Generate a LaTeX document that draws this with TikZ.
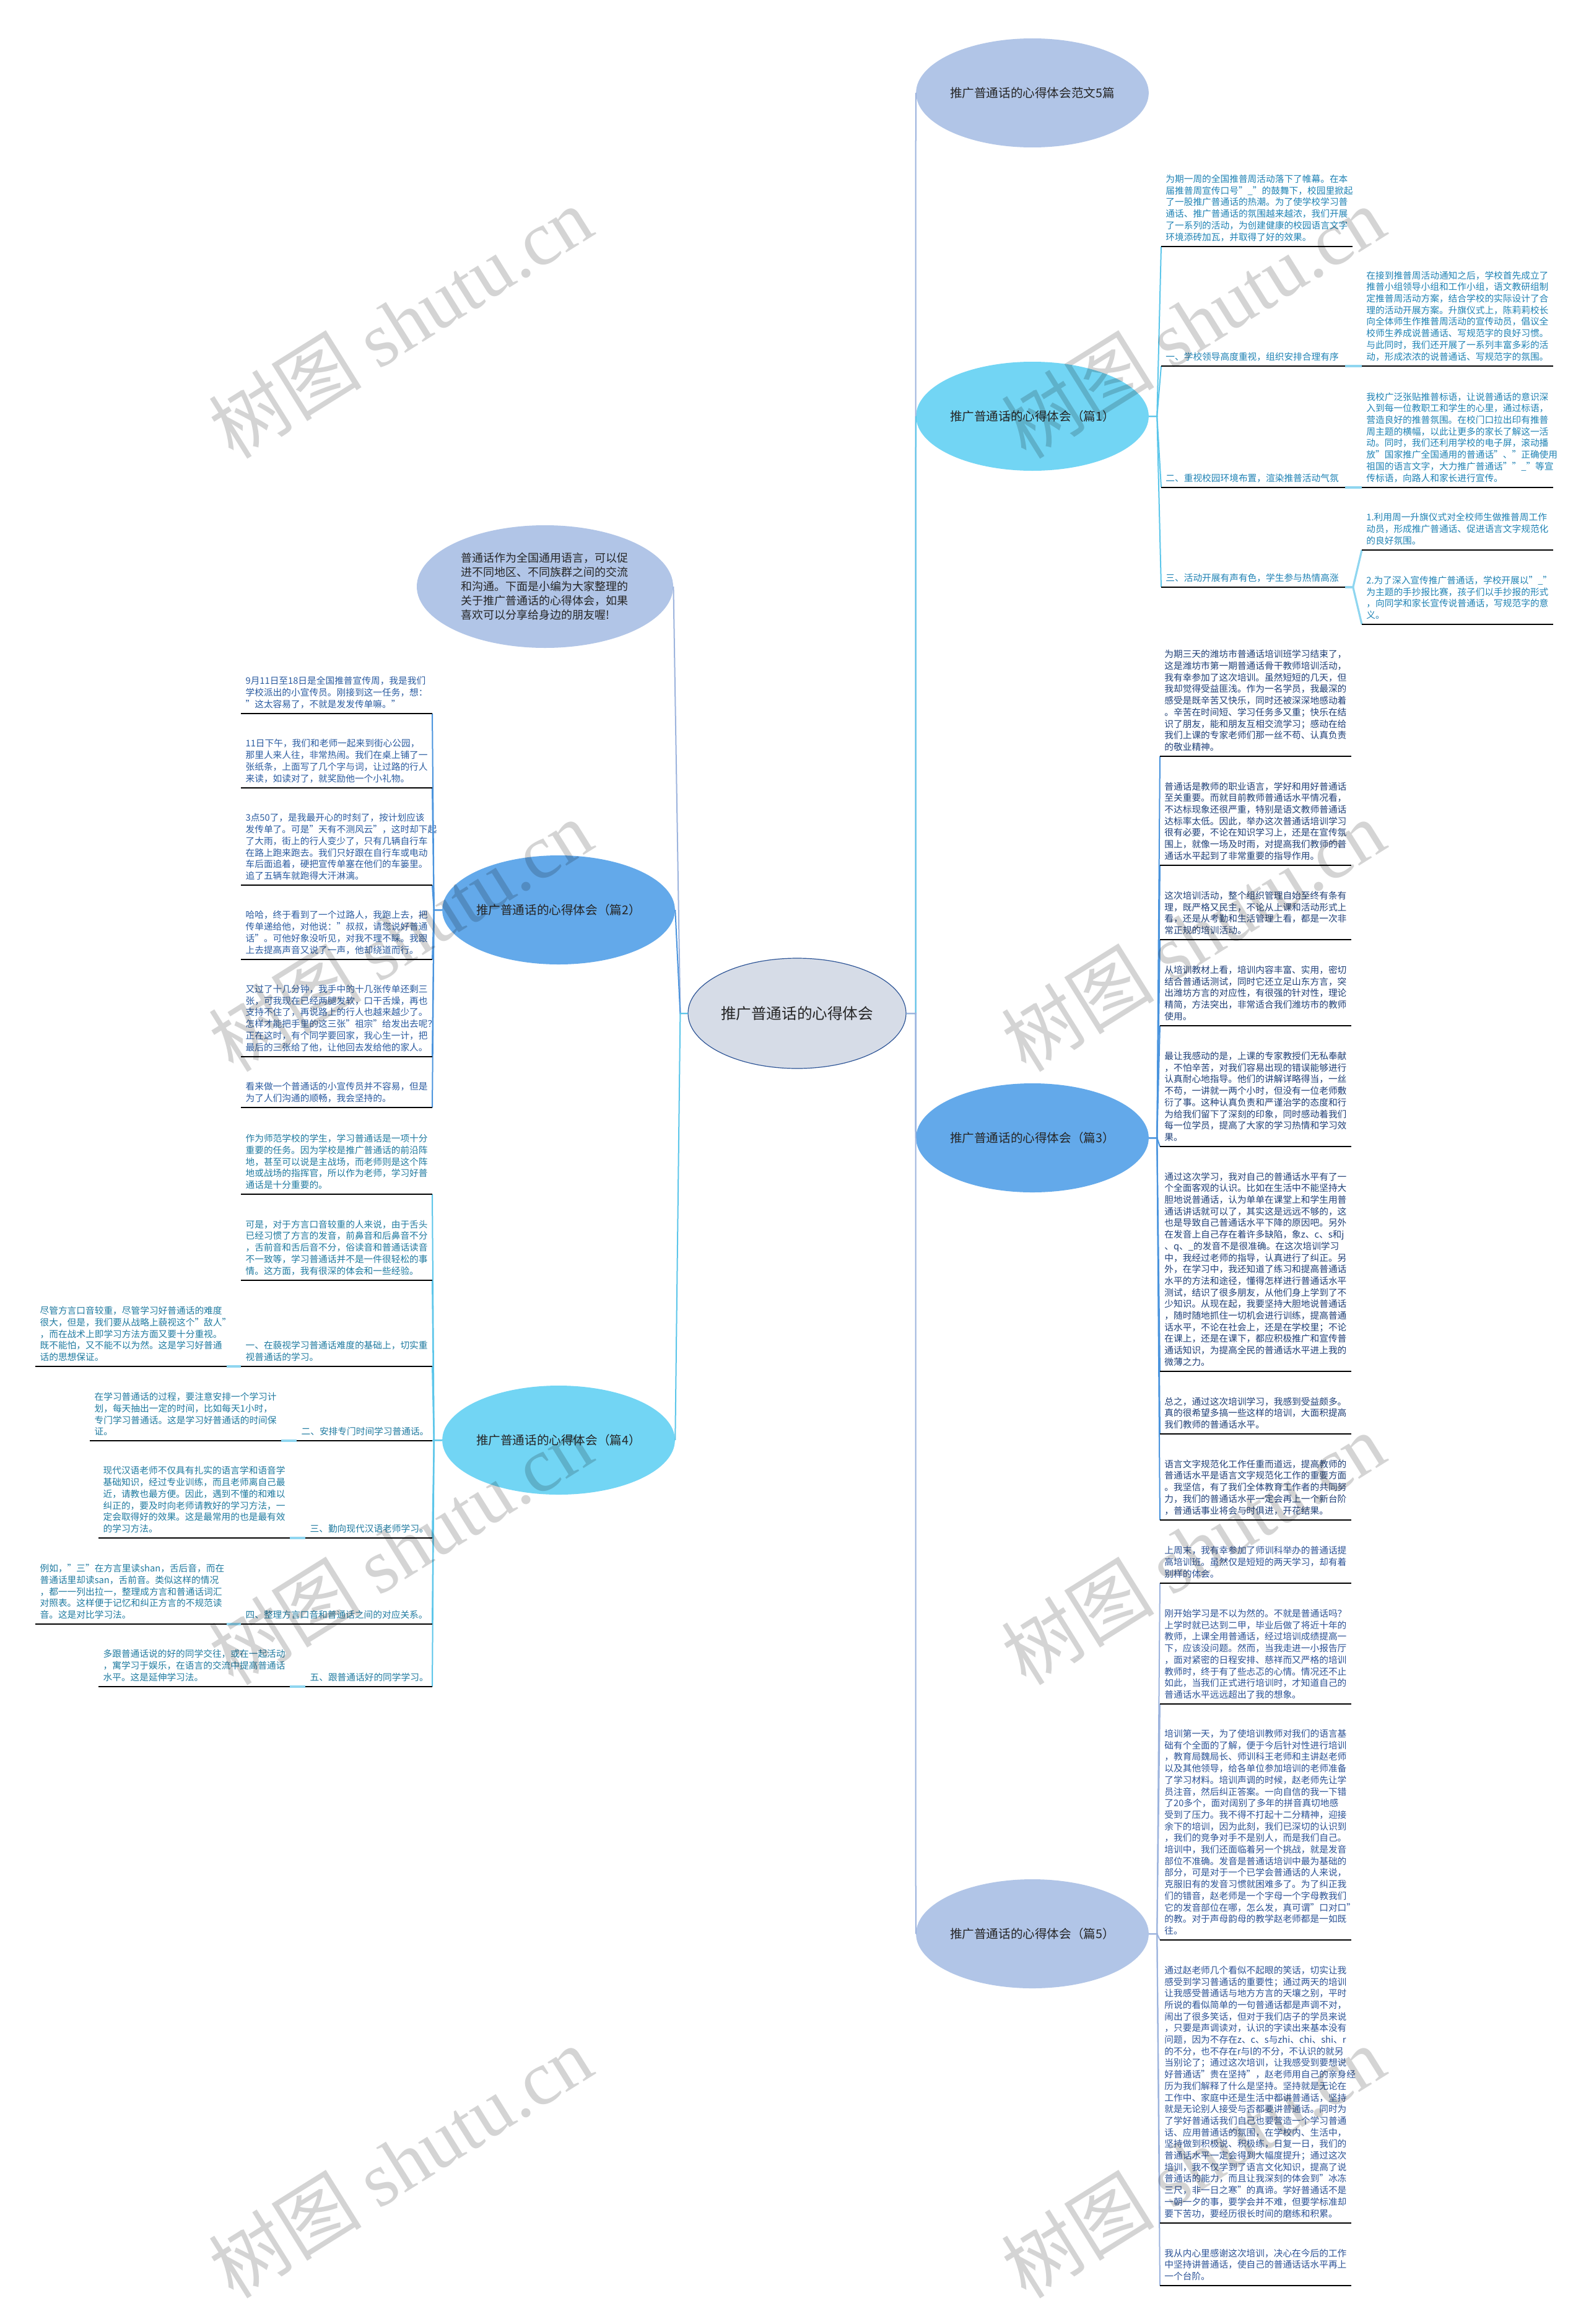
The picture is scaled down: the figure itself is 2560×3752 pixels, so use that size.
\documentclass[tikz,border=0pt]{standalone}
\usepackage{fontspec}
\setmainfont{Noto Sans CJK SC}
\newfontfamily\wmserif{Liberation Serif}
\usetikzlibrary{shapes.geometric}
\definecolor{fperi}{HTML}{B1C5E7}
\definecolor{lperi}{HTML}{9DB4DE}
\definecolor{fcyan}{HTML}{72D5F4}
\definecolor{lcyan}{HTML}{5CC6EA}
\definecolor{fblue}{HTML}{63A9EA}
\definecolor{lblue}{HTML}{4A94DE}
\definecolor{fmain}{HTML}{D6DCE7}
\definecolor{dmain}{HTML}{2E5597}
\definecolor{subc}{HTML}{8FD6F0}
\definecolor{tone}{HTML}{1E82B4}
\definecolor{ttwo}{HTML}{2A5BA0}
\definecolor{tthree}{HTML}{1F4078}
\definecolor{tfour}{HTML}{1F7AA0}
\definecolor{tfive}{HTML}{2B5296}
\newcommand\leaffont{\fontsize{7.35pt}{9.35pt}\selectfont}
\tikzset{
  bubble/.style={ellipse, minimum width=180pt, minimum height=88pt, inner sep=0pt, text=black!85, font=\fontsize{9.8pt}{12pt}\selectfont},
  leaf/.style={inner xsep=3.5pt, inner ysep=4pt, text width=147pt, align=left, font=\leaffont},
  lab/.style={leaf, text width=141pt},
  conn/.style={line width=1pt},
  subln/.style={line width=1.6pt, color=subc},
  uline/.style={line width=1.1pt, black},
  wmk/.style={rotate=32, text=black, opacity=0.17, inner sep=0pt, font=\fontsize{62pt}{62pt}\selectfont}
}
\begin{document}
\begin{tikzpicture}[x=0.5pt,y=-0.5pt]
\fill[white] (0,0) rectangle (2560,3752);
\useasboundingbox (0,0) rectangle (2560,3752);

% central and first-level nodes
\node[bubble, fill=fmain, draw=dmain, line width=0.6pt, minimum width=176pt, minimum height=89pt, font=\fontsize{12.3pt}{14pt}\selectfont] (main) at (1287,1636) {推广普通话的心得体会};
\node[bubble, fill=fperi] (top) at (1667,150) {推广普通话的心得体会范文5篇};
\node[bubble, fill=fcyan] (p1) at (1667,672) {推广普通话的心得体会（篇1）};
\node[bubble, fill=fblue] (p3) at (1667,1837) {推广普通话的心得体会（篇3）};
\node[bubble, fill=fperi] (p5) at (1667,3122) {推广普通话的心得体会（篇5）};
\node[bubble, fill=fperi, minimum width=207pt, minimum height=99pt, align=left, text width=136pt, font=\fontsize{9pt}{11.5pt}\selectfont] (intro) at (880,947) {普通话作为全国通用语言，可以促\\进不同地区、不同族群之间的交流\\和沟通。下面是小编为大家整理的\\关于推广普通话的心得体会，如果\\喜欢可以分享给身边的朋友喔!};
\node[bubble, fill=fblue] (p2) at (902,1469) {推广普通话的心得体会（篇2）};
\node[bubble, fill=fcyan] (p4) at (902,2325) {推广普通话的心得体会（篇4）};

% ---------- 篇1 ----------
\node[leaf, text=tone, anchor=south west] (p1a) at (1875,398) {为期一周的全国推普周活动落下了帷幕。在本\\届推普周宣传口号"\_"的鼓舞下，校园里掀起\\了一股推广普通话的热潮。为了使学校学习普\\通话、推广普通话的氛围越来越浓，我们开展\\了一系列的活动，为创建健康的校园语言文字\\环境添砖加瓦，并取得了好的效果。};
\node[lab, text=tone, anchor=south west] (p1l1) at (1875,591) {一、学校领导高度重视，组织安排合理有序};
\node[leaf, text=tone, anchor=south west] (p1b) at (2199,591) {在接到推普周活动通知之后，学校首先成立了\\推普小组领导小组和工作小组，语文教研组制\\定推普周活动方案，结合学校的实际设计了合\\理的活动开展方案。升旗仪式上，陈莉莉校长\\向全体师生作推普周活动的宣传动员，倡议全\\校师生养成说普通话、写规范字的良好习惯。\\与此同时，我们还开展了一系列丰富多彩的活\\动，形成浓浓的说普通话、写规范字的氛围。};
\node[lab, text=tone, anchor=south west] (p1l2) at (1875,787) {二、重视校园环境布置，渲染推普活动气氛};
\node[leaf, text=tone, anchor=south west] (p1c) at (2199,787) {我校广泛张贴推普标语，让说普通话的意识深\\入到每一位教职工和学生的心里，通过标语，\\营造良好的推普氛围。在校门口拉出印有推普\\周主题的横幅，以此让更多的家长了解这一活\\动。同时，我们还利用学校的电子屏，滚动播\\放"国家推广全国通用的普通话"、"正确使用\\祖国的语言文字，大力推广普通话""\_"等宣\\传标语，向路人和家长进行宣传。};
\node[lab, text=tone, anchor=south west] (p1l3) at (1875,948) {三、活动开展有声有色，学生参与热情高涨};
\node[leaf, text=tone, anchor=south west] (p1d1) at (2199,888) {1.利用周一升旗仪式对全校师生做推普周工作\\动员，形成推广普通话、促进语言文字规范化\\的良好氛围。};
\node[leaf, text=tone, anchor=south west] (p1d2) at (2199,1008) {2.为了深入宣传推广普通话，学校开展以"\_"\\为主题的手抄报比赛，孩子们以手抄报的形式\\，向同学和家长宣传说普通话，写规范字的意\\义。};

% ---------- 篇3 ----------
\node[leaf, text=tthree, anchor=south west] (p3a) at (1873,1221) {为期三天的潍坊市普通话培训班学习结束了，\\这是潍坊市第一期普通话骨干教师培训活动，\\我有幸参加了这次培训。虽然短短的几天，但\\我却觉得受益匪浅。作为一名学员，我最深的\\感受是既辛苦又快乐，同时还被深深地感动着\\。辛苦在时间短、学习任务多又重；快乐在结\\识了朋友，能和朋友互相交流学习；感动在给\\我们上课的专家老师们那一丝不苟、认真负责\\的敬业精神。};
\node[leaf, text=tthree, anchor=south west] (p3b) at (1873,1397) {普通话是教师的职业语言，学好和用好普通话\\至关重要。而就目前教师普通话水平情况看，\\不达标现象还很严重，特别是语文教师普通话\\达标率太低。因此，举办这次普通话培训学习\\很有必要，不论在知识学习上，还是在宣传氛\\围上，就像一场及时雨，对提高我们教师的普\\通话水平起到了非常重要的指导作用。};
\node[leaf, text=tthree, anchor=south west] (p3c) at (1873,1517) {这次培训活动，整个组织管理自始至终有条有\\理，既严格又民主，不论从上课和活动形式上\\看，还是从考勤和生活管理上看，都是一次非\\常正规的培训活动。};
\node[leaf, text=tthree, anchor=south west] (p3d) at (1873,1656) {从培训教材上看，培训内容丰富、实用，密切\\结合普通话测试，同时它还立足山东方言，突\\出潍坊方言的对应性，有很强的针对性，理论\\精简，方法突出，非常适合我们潍坊市的教师\\使用。};
\node[leaf, text=tthree, anchor=south west] (p3e) at (1873,1851) {最让我感动的是，上课的专家教授们无私奉献\\，不怕辛苦，对我们容易出现的错误能够进行\\认真耐心地指导。他们的讲解详略得当，一丝\\不苟，一讲就一两个小时，但没有一位老师敷\\衍了事。这种认真负责和严谨治学的态度和行\\为给我们留下了深刻的印象，同时感动着我们\\每一位学员，提高了大家的学习热情和学习效\\果。};
\node[leaf, text=tthree, anchor=south west] (p3f) at (1873,2214) {通过这次学习，我对自己的普通话水平有了一\\个全面客观的认识。比如在生活中不能坚持大\\胆地说普通话，认为单单在课堂上和学生用普\\通话讲话就可以了，其实这是远远不够的，这\\也是导致自己普通话水平下降的原因吧。另外\\在发音上自己存在着许多缺陷，象z、c、s和j\\、q、\_的发音不是很准确。在这次培训学习\\中，我经过老师的指导，认真进行了纠正。另\\外，在学习中，我还知道了练习和提高普通话\\水平的方法和途径，懂得怎样进行普通话水平\\测试，结识了很多朋友，从他们身上学到了不\\少知识。从现在起，我要坚持大胆地说普通话\\，随时随地抓住一切机会进行训练，提高普通\\话水平，不论在社会上，还是在学校里；不论\\在课上，还是在课下，都应积极推广和宣传普\\通话知识，为提高全民的普通话水平进上我的\\微薄之力。};
\node[leaf, text=tthree, anchor=south west] (p3g) at (1873,2315) {总之，通过这次培训学习，我感到受益颇多。\\真的很希望多搞一些这样的培训，大面积提高\\我们教师的普通话水平。};
\node[leaf, text=tthree, anchor=south west] (p3h) at (1873,2454) {语言文字规范化工作任重而道远，提高教师的\\普通话水平是语言文字规范化工作的重要方面\\。我坚信，有了我们全体教育工作者的共同努\\力，我们的普通话水平一定会再上一个新台阶\\，普通话事业将会与时俱进，开花结果。};

% ---------- 篇5 ----------
\node[leaf, text=tfive, anchor=south west] (p5a) at (1873,2556) {上周末，我有幸参加了师训科举办的普通话提\\高培训班。虽然仅是短短的两天学习，却有着\\别样的体会。};
\node[leaf, text=tfive, anchor=south west] (p5b) at (1873,2751) {刚开始学习是不以为然的。不就是普通话吗？\\上学时就已达到二甲，毕业后做了将近十年的\\教师，上课全用普通话，经过培训成绩提高一\\下，应该没问题。然而，当我走进一小报告厅\\，面对紧密的日程安排、慈祥而又严格的培训\\教师时，终于有了些忐忑的心情。情况还不止\\如此，当我们正式进行培训时，才知道自己的\\普通话水平远远超出了我的想象。};
\node[leaf, text=tfive, anchor=south west] (p5c) at (1873,3132) {培训第一天，为了使培训教师对我们的语言基\\础有个全面的了解，便于今后针对性进行培训\\，教育局魏局长、师训科王老师和主讲赵老师\\以及其他领导，给各单位参加培训的老师准备\\了学习材料。培训声调的时候，赵老师先让学\\员注音，然后纠正答案。一向自信的我一下错\\了20多个，面对阔别了多年的拼音真切地感\\受到了压力。我不得不打起十二分精神，迎接\\余下的培训，因为此刻，我们已深切的认识到\\，我们的竞争对手不是别人，而是我们自己。\\培训中，我们还面临着另一个挑战，就是发音\\部位不准确。发音是普通话培训中最为基础的\\部分，可是对于一个已学会普通话的人来说，\\克服旧有的发音习惯就困难多了。为了纠正我\\们的错音，赵老师是一个字母一个字母教我们\\它的发音部位在哪，怎么发，真可谓"口对口"\\的教。对于声母韵母的教学赵老师都是一如既\\往。};
\node[leaf, text=tfive, anchor=south west] (p5d) at (1873,3589) {通过赵老师几个看似不起眼的笑话，切实让我\\感受到学习普通话的重要性；通过两天的培训\\让我感受普通话与地方方言的天壤之别，平时\\所说的看似简单的一句普通话都是声调不对，\\闹出了很多笑话，但对于我们店子的学员来说\\，只要是声调读对，认识的字读出来基本没有\\问题，因为不存在z、c、s与zhi、chi、shi、r\\的不分，也不存在r与l的不分，不认识的就另\\当别论了；通过这次培训，让我感受到要想说\\好普通话"贵在坚持"，赵老师用自己的亲身经\\历为我们解释了什么是坚持。坚持就是无论在\\工作中、家庭中还是生活中都讲普通话，坚持\\就是无论别人接受与否都要讲普通话。同时为\\了学好普通话我们自己也要营造一个学习普通\\话、应用普通话的氛围，在学校内、生活中，\\坚持做到积极说、积极练，日复一日，我们的\\普通话水平一定会得到大幅度提升；通过这次\\培训，我不仅学到了语言文化知识，提高了说\\普通话的能力，而且让我深刻的体会到"冰冻\\三尺，非一日之寒"的真谛。学好普通话不是\\一朝一夕的事，要学会并不难，但要学标准却\\要下苦功，要经历很长时间的磨练和积累。};
\node[leaf, text=tfive, anchor=south west] (p5e) at (1873,3690) {我从内心里感谢这次培训，决心在今后的工作\\中坚持讲普通话，使自己的普通话话水平再上\\一个台阶。};

% ---------- 篇2 ----------
\node[leaf, text=ttwo, anchor=south east] (p2a) at (698,1152) {9月11日至18日是全国推普宣传周，我是我们\\学校派出的小宣传员。刚接到这一任务，想：\\"这太容易了，不就是发发传单嘛。"};
\node[leaf, text=ttwo, anchor=south east] (p2b) at (698,1272) {11日下午，我们和老师一起来到街心公园，\\那里人来人往，非常热闹。我们在桌上铺了一\\张纸条，上面写了几个字与词，让过路的行人\\来读，如读对了，就奖励他一个小礼物。};
\node[leaf, text=ttwo, anchor=south east] (p2c) at (698,1429) {3点50了，是我最开心的时刻了，按计划应该\\发传单了。可是"天有不测风云"，这时却下起\\了大雨，街上的行人变少了，只有几辆自行车\\在路上跑来跑去。我们只好跟在自行车或电动\\车后面追着，硬把宣传单塞在他们的车篓里。\\追了五辆车就跑得大汗淋漓。};
\node[leaf, text=ttwo, anchor=south east] (p2d) at (698,1549) {哈哈，终于看到了一个过路人，我跑上去，把\\传单递给他，对他说："叔叔，请您说好普通\\话"。可他好象没听见，对我不理不睬。我跟\\上去提高声音又说了一声，他却绕道而行。};
\node[leaf, text=ttwo, anchor=south east] (p2e) at (698,1706) {又过了十几分钟，我手中的十几张传单还剩三\\张，可我现在已经两腿发软，口干舌燥，再也\\支持不住了，再说路上的行人也越来越少了。\\怎样才能把手里的这三张"祖宗"给发出去呢？\\正在这时，有个同学要回家，我心生一计，把\\最后的三张给了他，让他回去发给他的家人。};
\node[leaf, text=ttwo, anchor=south east] (p2f) at (698,1788) {看来做一个普通话的小宣传员并不容易，但是\\为了人们沟通的顺畅，我会坚持的。};

% ---------- 篇4 ----------
\node[leaf, text=tfour, anchor=south east] (p4a) at (698,1928) {作为师范学校的学生，学习普通话是一项十分\\重要的任务。因为学校是推广普通话的前沿阵\\地，甚至可以说是主战场，而老师则是这个阵\\地或战场的指挥官，所以作为老师，学习好普\\通话是十分重要的。};
\node[leaf, text=tfour, anchor=south east] (p4b) at (698,2067) {可是，对于方言口音较重的人来说，由于舌头\\已经习惯了方言的发音，前鼻音和后鼻音不分\\，舌前音和舌后音不分，俗读音和普通话读音\\不一致等，学习普通话并不是一件很轻松的事\\情。这方面，我有很深的体会和一些经验。};
\node[leaf, text=tfour, anchor=south east] (p4l1) at (698,2206) {一、在藐视学习普通话难度的基础上，切实重\\视普通话的学习。};
\node[leaf, text=tfour, anchor=south east] (p4c1) at (366,2206) {尽管方言口音较重，尽管学习好普通话的难度\\很大，但是，我们要从战略上藐视这个"敌人"\\，而在战术上即学习方法方面又要十分重视。\\既不能怕，又不能不以为然。这是学习好普通\\话的思想保证。};
\node[leaf, text=tfour, anchor=south east, text width=102pt, align=right] (p4l2) at (698,2326) {二、安排专门时间学习普通话。};
\node[leaf, text=tfour, anchor=south east] (p4c2) at (454,2326) {在学习普通话的过程，要注意安排一个学习计\\划，每天抽出一定的时间，比如每天1小时，\\专门学习普通话。这是学习好普通话的时间保\\证。};
\node[leaf, text=tfour, anchor=south east, text width=95pt, align=right] (p4l3) at (698,2483) {三、勤向现代汉语老师学习。};
\node[leaf, text=tfour, anchor=south east] (p4c3) at (468,2483) {现代汉语老师不仅具有扎实的语言学和语音学\\基础知识，经过专业训练，而且老师离自己最\\近，请教也最方便。因此，遇到不懂的和难以\\纠正的，要及时向老师请教好的学习方法，一\\定会取得好的效果。这是最常用的也是最有效\\的学习方法。};
\node[leaf, text=tfour, anchor=south east, align=right] (p4l4) at (698,2622) {四、整理方言口音和普通话之间的对应关系。};
\node[leaf, text=tfour, anchor=south east] (p4c4) at (366,2622) {例如，"三"在方言里读shan，舌后音，而在\\普通话里却读san，舌前音。类似这样的情况\\，都一一列出拉一，整理成方言和普通话词汇\\对照表。这样便于记忆和纠正方言的不规范读\\音。这是对比学习法。};
\node[leaf, text=tfour, anchor=south east, text width=95pt, align=right] (p4l5) at (698,2723) {五、跟普通话好的同学学习。};
\node[leaf, text=tfour, anchor=south east] (p4c5) at (468,2723) {多跟普通话说的好的同学交往，或在一起活动\\，寓学习于娱乐，在语言的交流中提高普通话\\水平。这是延伸学习法。};

% ---------- connectors: main ----------
\draw[conn, lperi] (main.east) -- ++(15,0) -- (top.west);
\draw[conn, lcyan] (main.east) -- ++(15,0) -- (p1.west);
\draw[conn, lblue] (main.east) -- ++(15,0) -- (p3.west);
\draw[conn, lperi] (main.east) -- ++(15,0) -- (p5.west);
\draw[conn, lperi] (main.west) -- ++(-12,0) -- (intro.east);
\draw[conn, lblue] (main.west) -- ++(-12,0) -- (p2.east);
\draw[conn, lcyan] (main.west) -- ++(-12,0) -- (p4.east);

% ---------- connectors: parents to leaves ----------
\foreach \n in {p1a,p1l1,p1l2,p1l3}
  \draw[conn, lcyan] (p1.east) -- ++(13,0) -- (\n.south west);
\foreach \n in {p3a,p3b,p3c,p3d,p3e,p3f,p3g,p3h}
  \draw[conn, lblue] (p3.east) -- ++(13,0) -- (\n.south west);
\foreach \n in {p5a,p5b,p5c,p5d,p5e}
  \draw[conn, lperi] (p5.east) -- ++(13,0) -- (\n.south west);
\foreach \n in {p2a,p2b,p2c,p2d,p2e,p2f}
  \draw[conn, lblue] (p2.west) -- ++(-13,0) -- (\n.south east);
\foreach \n in {p4a,p4b,p4l1,p4l2,p4l3,p4l4,p4l5}
  \draw[conn, lcyan] (p4.west) -- ++(-13,0) -- (\n.south east);

% ---------- label to sub-leaf ----------
\draw[subln] (p1l1.south east) -- (p1b.south west);
\draw[subln] (p1l2.south east) -- (p1c.south west);
\draw[subln] (p1l3.south east) -- ++(13,0) -- (p1d1.south west);
\draw[subln] (p1l3.south east) -- ++(13,0) -- (p1d2.south west);
\draw[subln] (p4l1.south west) -- (p4c1.south east);
\draw[subln] (p4l2.south west) -- (p4c2.south east);
\draw[subln] (p4l3.south west) -- (p4c3.south east);
\draw[subln] (p4l4.south west) -- (p4c4.south east);
\draw[subln] (p4l5.south west) -- (p4c5.south east);

% ---------- underlines ----------
\foreach \n in {p1a,p1l1,p1b,p1l2,p1c,p1l3,p1d1,p1d2,p3a,p3b,p3c,p3d,p3e,p3f,p3g,p3h,p5a,p5b,p5c,p5d,p5e,p2a,p2b,p2c,p2d,p2e,p2f,p4a,p4b,p4l1,p4c1,p4l2,p4c2,p4l3,p4c3,p4l4,p4c4,p4l5,p4c5}
  \draw[uline] (\n.south west) -- (\n.south east);

% ---------- watermarks ----------
\node[wmk] (wm1) at (646,520) {树图 {\wmserif shutu.cn}};
\node[wmk] (wm2) at (1926,520) {树图 {\wmserif shutu.cn}};
\node[wmk] (wm3) at (646,1510) {树图 {\wmserif shutu.cn}};
\node[wmk] (wm4) at (1926,1510) {树图 {\wmserif shutu.cn}};
\node[wmk] (wm5) at (646,2500) {树图 {\wmserif shutu.cn}};
\node[wmk] (wm6) at (1926,2500) {树图 {\wmserif shutu.cn}};
\node[wmk] (wm7) at (646,3490) {树图 {\wmserif shutu.cn}};
\node[wmk] (wm8) at (1926,3490) {树图 {\wmserif shutu.cn}};
\end{tikzpicture}
\end{document}
